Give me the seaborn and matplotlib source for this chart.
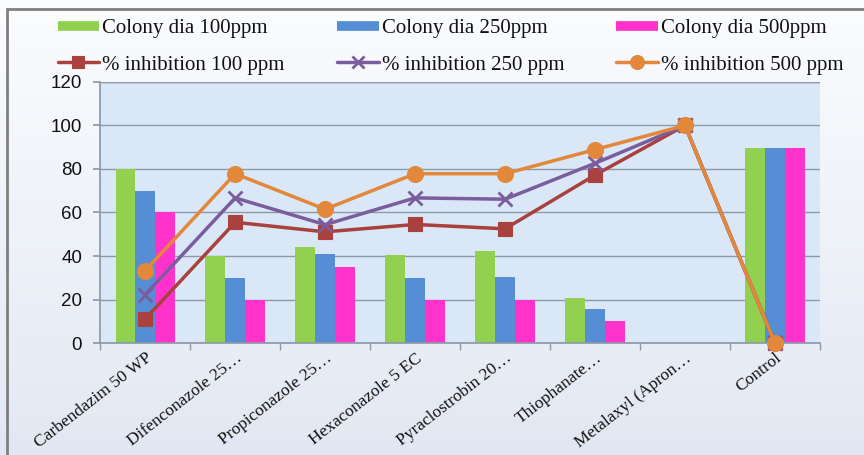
import matplotlib
matplotlib.use("Agg")
import matplotlib.pyplot as plt
import seaborn as sns
import numpy as np
import pandas as pd
from matplotlib.patches import Rectangle
from matplotlib.lines import Line2D
from matplotlib.colors import LinearSegmentedColormap
from matplotlib.font_manager import FontProperties

categories = ["Carbendazim 50 WP", "Difenconazole 25…", "Propiconazole 25…",
              "Hexaconazole 5 EC", "Pyraclostrobin 20…", "Thiophanate…",
              "Metalaxyl (Apron…", "Control"]
colony_100 = [80, 40, 44, 40.5, 42.5, 20.5, 0, 89.5]
colony_250 = [70, 30, 41, 30, 30.5, 15.5, 0, 89.5]
colony_500 = [60, 20, 35, 20, 20, 10, 0, 89.5]
inhib_100 = [11.1, 55.5, 51.1, 54.5, 52.5, 77.2, 100, 0]
inhib_250 = [22.2, 66.7, 54.4, 66.7, 66.1, 82.6, 100, 0]
inhib_500 = [33.3, 77.8, 61.5, 77.8, 77.8, 88.9, 100, 0]
bar_names = ["Colony dia 100ppm", "Colony dia 250ppm", "Colony dia 500ppm"]
line_names = ["% inhibition 100 ppm", "% inhibition 250 ppm", "% inhibition 500 ppm"]
yticks = [0, 20, 40, 60, 80, 100, 120]

bar_colors = ["#92D050", "#558ED5", "#FF33CC"]
line_colors = ["#A9413E", "#7B5D9E", "#E3883A"]
markers = ["s", "x", "o"]
msizes = [10.5, 10, 11.5]
grid_c = "#8E99A8"

df = pd.DataFrame({
    "cat": categories * 3,
    "val": colony_100 + colony_250 + colony_500,
    "series": [bar_names[0]] * 8 + [bar_names[1]] * 8 + [bar_names[2]] * 8,
})

sns.set_theme(style="white")
plt.rcParams["font.family"] = ["serif"]
plt.rcParams["font.serif"] = ["Liberation Serif", "DejaVu Serif"]
serif = FontProperties(family="Liberation Serif", size=15)
sans_family = "Liberation Sans"

fig = plt.figure(figsize=(8.64, 4.55), dpi=100)
fig.patch.set_facecolor("#F4F6FB")

# figure background gradient
bg = fig.add_axes([0, 0, 1, 1], zorder=-10)
cmap = LinearSegmentedColormap.from_list("bg", ["#FBFCFE", "#E2E8F3"])
bg.imshow(np.linspace(0, 1, 256).reshape(-1, 1), aspect="auto", cmap=cmap,
          extent=[0, 1, 0, 1])
bg.set_axis_off()

ax = fig.add_axes([0.116, 0.246, 0.833, 0.574])
ax.set_facecolor("#D9E7F6")

sns.barplot(data=df, x="cat", y="val", hue="series", palette=bar_colors,
            width=0.66, ax=ax, legend=False, saturation=1, linewidth=0)

xs = np.arange(len(categories))
for vals, c, m, ms in zip([inhib_100, inhib_250, inhib_500], line_colors, markers, msizes):
    ax.plot(xs, vals, color=c, lw=2.5, marker=m, markersize=ms,
            markeredgewidth=2 if m == "x" else 0.8, zorder=5, clip_on=False)

ax.set_xlim(-0.5, len(categories) - 0.5)
ax.set_ylim(0, 120)
ax.set_yticks(yticks)
ax.yaxis.grid(True, color=grid_c, lw=1)
ax.set_axisbelow(True)
for s in ["top", "right"]:
    ax.spines[s].set_visible(False)
ax.spines["left"].set_color(grid_c)
ax.spines["bottom"].set_color(grid_c)
ax.axhline(120, color=grid_c, lw=1)
ax.set_xlabel("")
ax.set_ylabel("")
ax.set_xticks(xs)
ax.set_xticklabels(categories, rotation=38, ha="right", va="top", rotation_mode="anchor",
                   fontfamily="Liberation Serif", fontsize=12.5, color="#111111")
ax.set_xticks(np.arange(-0.5, len(categories) + 0.5, 1), minor=True)
ax.tick_params(axis="x", which="major", length=0, pad=5)
ax.tick_params(axis="x", which="minor", length=5, color=grid_c, bottom=True)
ax.tick_params(axis="y", length=5, color=grid_c, left=True, labelsize=13.5, pad=8)
for t in ax.get_yticklabels():
    t.set_fontfamily(sans_family)
    t.set_color("#111111")

handles, labels = [], []
for i in range(3):
    handles.append(Line2D([], [], color=bar_colors[i], lw=7, solid_capstyle="butt"))
    labels.append(bar_names[i])
    handles.append(Line2D([], [], color=line_colors[i], lw=2.5, marker=markers[i],
                          markersize=msizes[i] - 1.5,
                          markeredgewidth=2 if markers[i] == "x" else 0.8))
    labels.append(line_names[i])
fig.legend(handles, labels, ncol=3, loc="upper left", bbox_to_anchor=(0.045, 1.0),
           frameon=False, prop=serif,
           handlelength=2.0, handletextpad=0.15, columnspacing=2.5, labelspacing=0.8,
           labelcolor="#111111")

fig.add_artist(Rectangle((0.008, -0.05), 1.05, 1.03, transform=fig.transFigure,
                         fill=False, edgecolor="#7F7F7F", lw=2))

fig.savefig("out.png", dpi=100, facecolor=fig.get_facecolor())
